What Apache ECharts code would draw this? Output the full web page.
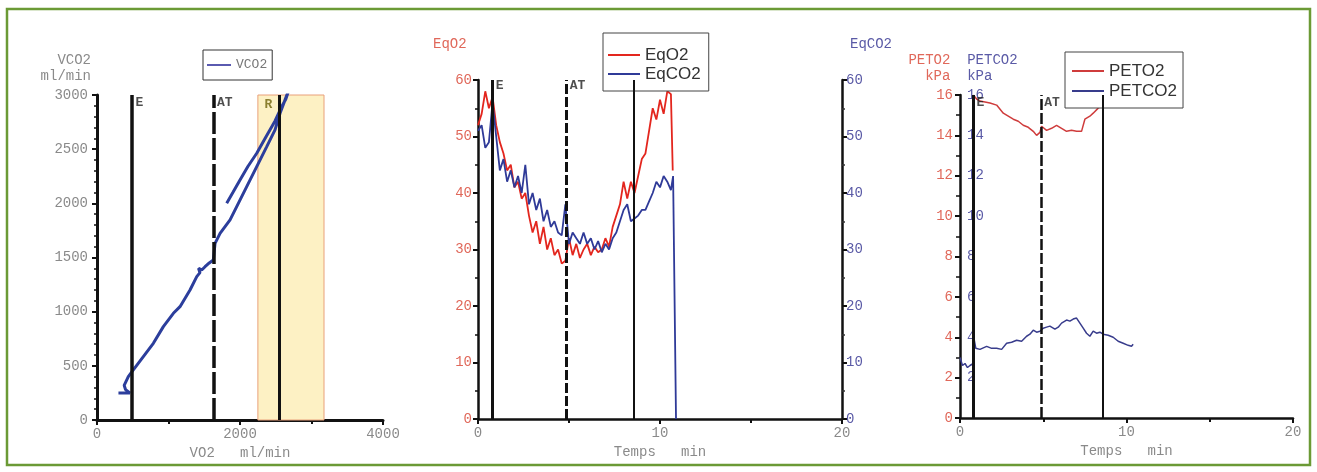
<!DOCTYPE html>
<html><head><meta charset="utf-8">
<script src="https://cdn.jsdelivr.net/npm/echarts@6/dist/echarts.min.js"></script>
<style>html,body{margin:0;padding:0;background:#fff}#c{width:1317px;height:472px}</style>
</head><body><div id="c"></div>
<script>
// ---------- Panel 1 : V-slope (VCO2 vs VO2) ----------
const vo2 = [300, 460, 400, 380, 438, 508, 648, 788, 928, 1068, 1161, 1301, 1395, 1440, 1420, 1465, 1511, 1570, 1627, 1651, 1721, 1861, 1954, 2094, 2234, 2374, 2490, 2560, 2630, 2690, 2640, 2584, 2490, 2360, 2234, 2110, 2000, 1900, 1814];
const vco2 = [250, 250, 280, 320, 400, 462, 585, 708, 862, 985, 1046, 1200, 1323, 1360, 1400, 1385, 1415, 1450, 1477, 1631, 1723, 1847, 1970, 2154, 2339, 2524, 2678, 2832, 2955, 3060, 2960, 2893, 2760, 2610, 2462, 2340, 2216, 2100, 2001];
const vo2Markers = [490, 1630, 2545];
const vo2MarkerLabels = ['E', 'AT', ''];
const rZone = [2250, 3175];
const rZoneLabel = 'R';

// ---------- Panel 2 : EqO2 / EqCO2 vs time ----------
const eqO2Time = [0, 0.2, 0.4, 0.6, 0.8, 1.0, 1.2, 1.4, 1.6, 1.8, 2.0, 2.2, 2.4, 2.6, 2.8, 3.0, 3.2, 3.4, 3.6, 3.8, 4.0, 4.2, 4.4, 4.6, 4.8, 5.0, 5.2, 5.4, 5.6, 5.8, 6.0, 6.2, 6.4, 6.6, 6.8, 7.0, 7.2, 7.4, 7.6, 7.8, 8.0, 8.2, 8.4, 8.6, 8.8, 9.0, 9.2, 9.4, 9.6, 9.8, 10.0, 10.2, 10.4, 10.6, 10.7];
const eqO2 = [52, 54, 58, 55, 57, 52, 49, 47, 44, 45, 41, 42, 39, 40, 36, 33, 35, 31, 34, 30, 32, 29, 30, 27.5, 28, 32, 29, 31, 28.5, 30, 31, 29, 30.5, 29.5, 30, 32, 30.5, 34, 36, 38, 42, 39, 42, 40, 43, 46, 47, 51, 55, 53, 56.5, 54, 58, 57.5, 44];
const eqCO2Time = [0, 0.2, 0.4, 0.6, 0.8, 1.0, 1.2, 1.4, 1.6, 1.8, 2.0, 2.2, 2.4, 2.6, 2.8, 3.0, 3.2, 3.4, 3.6, 3.8, 4.0, 4.2, 4.4, 4.6, 4.8, 5.0, 5.2, 5.4, 5.6, 5.8, 6.0, 6.2, 6.4, 6.6, 6.8, 7.0, 7.2, 7.4, 7.6, 7.8, 8.0, 8.2, 8.4, 8.6, 8.8, 9.0, 9.2, 9.4, 9.6, 9.8, 10.0, 10.2, 10.4, 10.6, 10.72, 10.88];
const eqCO2 = [51, 52, 48, 49, 56, 50, 44, 46, 42, 44, 41, 43, 40, 45, 38, 40, 37, 39, 35, 37, 34, 35, 33, 32.5, 38, 31, 33, 32, 31, 33, 31, 32, 30, 31.5, 29.5, 31, 30, 32, 33, 35, 37, 38, 35, 35.5, 36, 37, 37, 38.5, 40, 42, 41, 43, 42, 40.5, 43, 0];
const timeMarkers = [0.78, 4.85, 8.55];
const timeMarkerLabels = ['E', 'AT', ''];

// ---------- Panel 3 : PETO2 / PETCO2 vs time ----------
const petO2Time = [0.8, 1.0, 1.2, 1.5, 1.8, 2.2, 2.6, 3.0, 3.2, 3.5, 3.8, 4.1, 4.4, 4.6, 4.8, 4.9, 5.2, 5.5, 5.8, 6.1, 6.4, 6.7, 7.0, 7.3, 7.5, 7.8, 8.0, 8.3, 8.6, 9.0, 9.4, 9.8, 10.2, 10.4];
const petO2 = [16.0, 15.8, 15.7, 15.65, 15.6, 15.5, 15.1, 14.9, 14.8, 14.7, 14.5, 14.4, 14.2, 14.0, 14.15, 14.45, 14.25, 14.35, 14.5, 14.35, 14.2, 14.25, 14.2, 14.2, 14.8, 14.95, 15.1, 15.35, 15.5, 15.7, 15.8, 15.9, 16.0, 16.1];
const petCO2Time = [0.0, 0.15, 0.3, 0.45, 0.6, 0.7, 0.8, 0.85, 0.95, 1.2, 1.6, 1.9, 2.2, 2.5, 2.8, 3.1, 3.4, 3.7, 4.0, 4.2, 4.4, 4.6, 4.8, 5.0, 5.2, 5.4, 5.7, 5.9, 6.1, 6.4, 6.6, 6.8, 7.0, 7.2, 7.4, 7.6, 7.8, 8.0, 8.2, 8.4, 8.6, 8.9, 9.2, 9.5, 9.8, 10.1, 10.3, 10.4];
const petCO2 = [3.0, 2.6, 2.7, 2.5, 2.6, 2.55, 2.7, 3.9, 3.45, 3.4, 3.55, 3.45, 3.45, 3.4, 3.7, 3.75, 3.85, 3.8, 4.05, 4.15, 4.35, 4.25, 4.3, 4.45, 4.5, 4.55, 4.4, 4.5, 4.7, 4.85, 4.8, 4.9, 4.95, 4.7, 4.45, 4.2, 4.05, 4.3, 4.2, 4.25, 4.15, 4.1, 4.0, 3.8, 3.7, 3.6, 3.55, 3.65];

// ---------- helpers ----------
const pair = (xs, ys) => xs.map((x, i) => [x, ys[i]]);
const mono = '"Liberation Mono", "Courier New", monospace';
const sans = '"Liberation Sans", Arial, sans-serif';
const grey = '#8a8a8a';
const redLbl = '#e0685a';
const blueLbl = '#5a5aa6';
const black = '#111';
const plain = v => String(v);

function markerLines(xs, widths, dashIdx, dash) {
  return {
    silent: true, symbol: ['none', 'none'], label: { show: false }, animation: false,
    emphasis: { disabled: true },
    data: xs.map((x, i) => ({ xAxis: x, lineStyle: { color: black, width: widths[i], type: i === dashIdx ? dash : 'solid', opacity: 1 } }))
  };
}
function markerLabels(xi, yi, xs, labels, yTop, dy) {
  return {
    type: 'scatter', xAxisIndex: xi, yAxisIndex: yi, symbolSize: 1, silent: true, z: 5,
    itemStyle: { color: 'rgba(0,0,0,0)' },
    data: xs.map((x, i) => ({ value: [x, yTop], name: labels[i] })),
    label: { show: true, position: 'right', distance: 3, offset: [0, dy], formatter: '{b}',
      fontFamily: mono, fontWeight: 'bold', fontSize: 13, color: '#222' }
  };
}
function axisCommon(lw) {
  return {
    axisLine: { show: true, onZero: false, lineStyle: { color: black, width: lw } },
    axisTick: { show: true, length: 5, lineStyle: { color: black, width: 2 } },
    splitLine: { show: false }
  };
}
function legendBase(extra) {
  return Object.assign({ orient: 'vertical', backgroundColor: '#fff', borderRadius: 0, borderWidth: 1,
    icon: 'rect', itemHeight: 2, selectedMode: false }, extra);
}

const chart = echarts.init(document.getElementById('c'), null, { renderer: 'canvas' });
chart.setOption({
  animation: false,
  backgroundColor: '#fff',
  graphic: [{ type: 'rect', shape: { x: 7, y: 9, width: 1303, height: 456 }, style: { fill: 'none', stroke: '#6b9a35', lineWidth: 2.5 }, silent: true }],
  grid: [
    { left: 97, top: 95, width: 286, height: 325, containLabel: false, outerBoundsMode: 'none' },
    { left: 478, top: 80, width: 364, height: 339, containLabel: false, outerBoundsMode: 'none' },
    { left: 960, top: 95, width: 333, height: 323, containLabel: false, outerBoundsMode: 'none' }
  ],
  legend: [
    legendBase({ data: ['VCO2'], left: 203, top: 50, borderColor: '#333',
      padding: [7, 5, 7, 4], itemWidth: 24, itemGap: 2, itemTextGap: 8,
      itemStyle: { color: '#5a5ab0' },
      textStyle: { fontFamily: mono, fontSize: 13, color: '#777', lineHeight: 16 } }),
    legendBase({ data: ['EqO2', 'EqCO2'], left: 603, top: 33, borderColor: '#444',
      padding: [13, 8, 8, 5], itemWidth: 32, itemGap: 1, itemTextGap: 19,
      textStyle: { fontFamily: sans, fontSize: 17, color: '#333', lineHeight: 18 } }),
    legendBase({ data: ['PETO2', 'PETCO2'], left: 1065, top: 52, borderColor: '#444',
      padding: [10, 6, 8, 7], itemWidth: 32, itemGap: 2, itemTextGap: 13,
      textStyle: { fontFamily: sans, fontSize: 17, color: '#333', lineHeight: 18 } })
  ],
  xAxis: [
    Object.assign(axisCommon(3), { gridIndex: 0, type: 'value', min: 0, max: 4000, interval: 2000,
      minorTick: { show: true, splitNumber: 2, length: 4, lineStyle: { color: black, width: 2 } },
      axisLabel: { color: grey, fontFamily: mono, fontSize: 14, margin: 7, formatter: plain },
      name: 'VO2   ml/min', nameLocation: 'middle', nameGap: 22,
      nameTextStyle: { color: grey, fontFamily: mono, fontSize: 14 } }),
    Object.assign(axisCommon(2.5), { gridIndex: 1, type: 'value', min: 0, max: 20, interval: 10,
      minorTick: { show: true, splitNumber: 2, length: 4, lineStyle: { color: black, width: 2 } },
      axisLabel: { color: grey, fontFamily: mono, fontSize: 14, margin: 7, formatter: plain },
      name: 'Temps   min', nameLocation: 'middle', nameGap: 24,
      nameTextStyle: { color: grey, fontFamily: mono, fontSize: 14 } }),
    Object.assign(axisCommon(2.5), { gridIndex: 2, type: 'value', min: 0, max: 20, interval: 10,
      minorTick: { show: true, splitNumber: 2, length: 4, lineStyle: { color: black, width: 2 } },
      axisLabel: { color: grey, fontFamily: mono, fontSize: 14, margin: 7, formatter: plain },
      name: 'Temps   min', nameLocation: 'middle', nameGap: 22,
      nameTextStyle: { color: grey, fontFamily: mono, fontSize: 14 } })
  ],
  yAxis: [
    Object.assign(axisCommon(3), { gridIndex: 0, type: 'value', min: 0, max: 3000, interval: 500,
      minorTick: { show: true, splitNumber: 5, length: 3, lineStyle: { color: black, width: 1.5 } },
      axisLabel: { color: grey, fontFamily: mono, fontSize: 14, margin: 9, formatter: plain },
      name: 'VCO2\nml/min', nameLocation: 'end', nameGap: 11,
      nameTextStyle: { color: grey, fontFamily: mono, fontSize: 14, lineHeight: 16, align: 'right', padding: [0, 6, 0, 0] } }),
    Object.assign(axisCommon(2.5), { gridIndex: 1, type: 'value', min: 0, max: 60, interval: 10, position: 'left',
      minorTick: { show: true, splitNumber: 2, length: 3, lineStyle: { color: black, width: 1.5 } },
      axisLabel: { color: redLbl, fontFamily: mono, fontSize: 14, margin: 6, formatter: plain },
      name: 'EqO2', nameLocation: 'end', nameGap: 29,
      nameTextStyle: { color: redLbl, fontFamily: mono, fontSize: 14, align: 'left', padding: [0, 0, 0, -45] } }),
    Object.assign(axisCommon(2.5), { gridIndex: 1, type: 'value', min: 0, max: 60, interval: 10, position: 'right',
      minorTick: { show: true, splitNumber: 2, length: 3, lineStyle: { color: '#333', width: 1.5 } },
      axisLabel: { color: blueLbl, fontFamily: mono, fontSize: 14, margin: 4, formatter: plain },
      name: 'EqCO2', nameLocation: 'end', nameGap: 29,
      nameTextStyle: { color: blueLbl, fontFamily: mono, fontSize: 14, align: 'left', padding: [0, 0, 0, 8] } }),
    Object.assign(axisCommon(2.5), { gridIndex: 2, type: 'value', min: 0, max: 16, interval: 2, position: 'left',
      minorTick: { show: true, splitNumber: 2, length: 4, lineStyle: { color: black, width: 1.5 } },
      axisLabel: { color: redLbl, fontFamily: mono, fontSize: 14, margin: 7, formatter: plain },
      name: '{r|PETO2}  {b|PETCO2}\n{r|  kPa}  {b|kPa   }', nameLocation: 'end', nameGap: 11,
      nameTextStyle: { fontFamily: mono, fontSize: 14, lineHeight: 16, align: 'center', padding: [0, 0, 0, 6],
        rich: { r: { color: redLbl, fontFamily: mono, fontSize: 14, lineHeight: 16 },
                b: { color: blueLbl, fontFamily: mono, fontSize: 14, lineHeight: 16 } } } }),
    { gridIndex: 2, type: 'value', min: 0, max: 16, interval: 2, position: 'right', offset: -333,
      axisLine: { show: false }, axisTick: { show: false }, splitLine: { show: false },
      axisLabel: { color: blueLbl, fontFamily: mono, fontSize: 14, margin: 7, formatter: v => (v === 0 ? '' : String(v)) } }
  ],
  series: [
    // panel 1
    { type: 'line', name: '_band', xAxisIndex: 0, yAxisIndex: 0, data: [[0, 0]], symbol: 'none', lineStyle: { opacity: 0 }, z: 1, silent: true,
      markArea: { silent: true,
        itemStyle: { color: '#fdf1c4', borderColor: '#e9a07a', borderWidth: 1 },
        label: { show: true, position: 'insideTopLeft', distance: 4, offset: [3, 0], color: '#8c8030', fontFamily: mono, fontWeight: 'bold', fontSize: 13 },
        data: [[{ xAxis: rZone[0], yAxis: 0, name: rZoneLabel }, { xAxis: rZone[1], yAxis: 3000 }]] } },
    { type: 'line', name: '_m1', xAxisIndex: 0, yAxisIndex: 0, data: [[0, 0]], symbol: 'none', lineStyle: { opacity: 0 }, z: 2, silent: true,
      markLine: markerLines(vo2Markers, [3.5, 3.5, 3], 1, [22, 4]) },
    { type: 'line', name: 'VCO2', xAxisIndex: 0, yAxisIndex: 0, data: pair(vo2, vco2), symbol: 'none', z: 3,
      color: '#2c3e9c', lineStyle: { color: '#2c3e9c', width: 3 } },
    markerLabels(0, 0, vo2Markers, vo2MarkerLabels, 3000, 8),
    // panel 2
    { type: 'line', name: '_m2', xAxisIndex: 1, yAxisIndex: 1, data: [[0, 0]], symbol: 'none', lineStyle: { opacity: 0 }, z: 2, silent: true,
      markLine: markerLines(timeMarkers, [3, 3, 2], 1, [10, 3]) },
    { type: 'line', name: 'EqO2', xAxisIndex: 1, yAxisIndex: 1, data: pair(eqO2Time, eqO2), symbol: 'none', z: 3,
      color: '#e3261e', lineStyle: { color: '#e3261e', width: 1.8 } },
    { type: 'line', name: 'EqCO2', xAxisIndex: 1, yAxisIndex: 2, data: pair(eqCO2Time, eqCO2), symbol: 'none', z: 3,
      color: '#2f3a98', lineStyle: { color: '#2f3a98', width: 1.8 } },
    markerLabels(1, 1, timeMarkers, timeMarkerLabels, 60, 6),
    // panel 3
    { type: 'line', name: '_m3', xAxisIndex: 2, yAxisIndex: 3, data: [[0, 0]], symbol: 'none', lineStyle: { opacity: 0 }, z: 2, silent: true,
      markLine: markerLines(timeMarkers, [3, 2.5, 2], 1, [11, 3]) },
    { type: 'line', name: 'PETO2', xAxisIndex: 2, yAxisIndex: 3, data: pair(petO2Time, petO2), symbol: 'none', z: 3,
      color: '#cf3c3c', lineStyle: { color: '#cf3c3c', width: 1.5 } },
    { type: 'line', name: 'PETCO2', xAxisIndex: 2, yAxisIndex: 4, data: pair(petCO2Time, petCO2), symbol: 'none', z: 3,
      color: '#383c8c', lineStyle: { color: '#383c8c', width: 1.5 } },
    markerLabels(2, 3, timeMarkers, timeMarkerLabels, 16, 8)
  ]
});
</script>
</body></html>
